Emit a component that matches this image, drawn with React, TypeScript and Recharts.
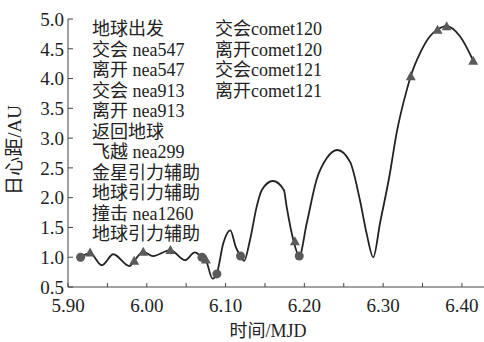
import React from 'react';
import { ComposedChart, Line, Scatter, XAxis, YAxis } from 'recharts';

// Trajectory: time (MJD, x10^4) and heliocentric distance (AU)
const trajT = [5.916, 5.928, 5.943, 5.9575, 5.978, 5.984, 5.9955, 6.008, 6.030, 6.0485, 6.061, 6.070, 6.075, 6.0835, 6.089, 6.097, 6.106, 6.113, 6.119, 6.1235, 6.131, 6.1395, 6.146, 6.160, 6.174, 6.1775, 6.186, 6.1935, 6.203, 6.2155, 6.2283, 6.2418, 6.258, 6.2705, 6.279, 6.2875, 6.296, 6.3086, 6.317, 6.330, 6.335, 6.347, 6.3594, 6.3687, 6.3806, 6.3975, 6.4143];
const trajR = [1.00, 1.07, 0.865, 1.05, 0.85, 0.94, 1.09, 1.02, 1.12, 0.95, 1.08, 1.00, 0.95, 0.64, 0.73, 1.23, 1.45, 1.17, 1.02, 0.94, 1.29, 1.85, 2.13, 2.28, 2.13, 1.85, 1.29, 1.02, 1.57, 2.30, 2.66, 2.80, 2.60, 1.96, 1.40, 1.00, 1.57, 2.41, 3.08, 3.81, 4.04, 4.43, 4.71, 4.82, 4.88, 4.71, 4.30];

// Event markers
const circleT = [5.916, 6.070, 6.089, 6.119, 6.1935];
const circleR = [1.00, 1.00, 0.72, 1.02, 1.02];
const triT = [5.928, 5.984, 5.9955, 6.030, 6.075, 6.188, 6.335, 6.369, 6.3806, 6.4143];
const triR = [1.08, 0.94, 1.09, 1.12, 0.96, 1.27, 4.04, 4.82, 4.88, 4.30];

const xTicks = [5.90, 5.95, 6.00, 6.05, 6.10, 6.15, 6.20, 6.25, 6.30, 6.35, 6.40];
const yTicks = [0.5, 1.0, 1.5, 2.0, 2.5, 3.0, 3.5, 4.0, 4.5, 5.0];

const legendCol1 = ['地球出发', '交会 nea547', '离开 nea547', '交会 nea913', '离开 nea913', '返回地球', '飞越 nea299', '金星引力辅助', '地球引力辅助', '撞击 nea1260', '地球引力辅助'];
const legendCol2 = ['交会comet120', '离开comet120', '交会comet121', '离开comet121'];

const xTitle = '时间/MJD';
const yTitle = '日心距/AU';

const trajData = trajT.map((t, i) => ({ t, r: trajR[i] }));
const circleData = circleT.map((t, i) => ({ t, r: circleR[i] }));
const triData = triT.map((t, i) => ({ t, r: triR[i] }));

const FONT = '"Liberation Serif", "Noto Sans CJK SC", serif';
const MARK = '#5a5a5a';

const CircleShape = (p: any) => <circle cx={p.cx} cy={p.cy} r={4.5} fill={MARK} />;
const TriShape = (p: any) => {
  const { cx, cy } = p;
  return <polygon points={`${cx},${cy - 5} ${cx - 5},${cy + 4} ${cx + 5},${cy + 4}`} fill={MARK} />;
};

export default function App() {
  const W = 484;
  const H = 342;
  return (
    <div style={{ position: 'absolute', left: 0, top: 0, width: W, height: H, background: '#fff', fontFamily: FONT, overflow: 'hidden' }}>
      <ComposedChart width={W} height={H} margin={{ top: 19, right: 0, bottom: 0, left: 0 }}>
        <XAxis
          type="number"
          dataKey="t"
          domain={[5.9, 6.428]}
          ticks={xTicks}
          interval={0}
          allowDataOverflow
          tickFormatter={(v: number) => (Math.round(v * 100) % 10 === 0 ? v.toFixed(2) : '')}
          height={55}
          tickSize={-4}
          tickMargin={16}
          stroke="#444"
          tick={{ fill: '#222', fontSize: 19, fontFamily: FONT }}
        />
        <YAxis
          type="number"
          dataKey="r"
          domain={[0.5, 5.0]}
          ticks={yTicks}
          interval={0}
          allowDataOverflow
          tickFormatter={(v: number) => v.toFixed(1)}
          width={68}
          tickSize={-5}
          tickMargin={9}
          stroke="#444"
          tick={{ fill: '#222', fontSize: 19, fontFamily: FONT }}
        />
        <Line
          data={trajData}
          dataKey="r"
          type="monotone"
          stroke="#222"
          strokeWidth={1.8}
          dot={false}
          isAnimationActive={false}
        />
        <Scatter data={circleData} dataKey="r" shape={CircleShape} isAnimationActive={false} />
        <Scatter data={triData} dataKey="r" shape={TriShape} isAnimationActive={false} />
      </ComposedChart>
      {legendCol1.map((s, i) => (
        <div key={'a' + i} style={{ position: 'absolute', left: 92, top: 29 + i * 20.5 - 11, fontSize: 18, lineHeight: '22px', color: '#222', whiteSpace: 'nowrap' }}>{s}</div>
      ))}
      {legendCol2.map((s, i) => (
        <div key={'b' + i} style={{ position: 'absolute', left: 215, top: 29 + i * 20.5 - 11, fontSize: 18, lineHeight: '22px', color: '#222', whiteSpace: 'nowrap' }}>{s}</div>
      ))}
      <div style={{ position: 'absolute', left: 268 - 60, width: 120, textAlign: 'center', top: 321, fontSize: 18, lineHeight: '20px', color: '#222' }}>{xTitle}</div>
      <div style={{ position: 'absolute', left: 15 - 60, top: 150 - 11, width: 120, textAlign: 'center', fontSize: 19, lineHeight: '22px', color: '#222', transform: 'rotate(-90deg)' }}>{yTitle}</div>
    </div>
  );
}
